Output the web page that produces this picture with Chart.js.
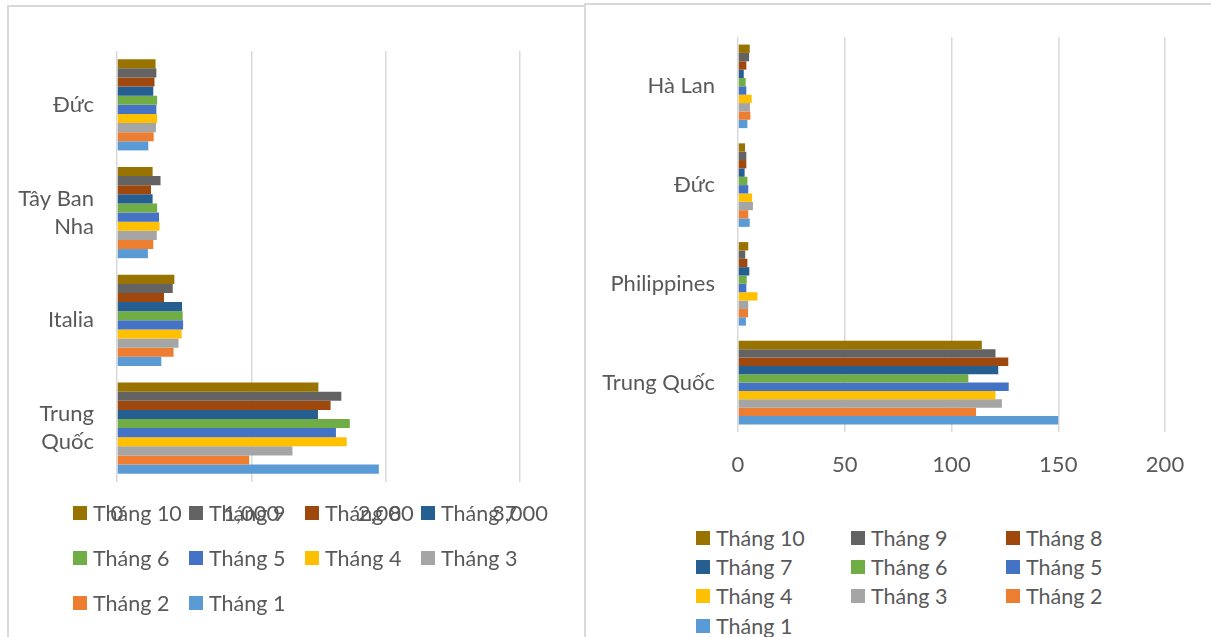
<!DOCTYPE html>
<html>
<head>
<meta charset="utf-8">
<script src="https://cdn.jsdelivr.net/npm/chart.js@4"></script>
<style>
  html, body { margin: 0; padding: 0; background: #fff; }
  body { width: 1211px; height: 637px; position: relative; overflow: hidden; font-family: Lato, sans-serif; }
  .panel { position: absolute; box-sizing: border-box; border: 2px solid #d9d9d9; height: 700px; }
  #panel-left { left: 7px; top: 5px; width: 579px; }
  #panel-right { left: 584px; top: 3px; width: 700px; }
  .box { position: absolute; }
  #box-left { left: 8px; top: 0; width: 577px; height: 540px; }
  #box-right { left: 585px; top: 0; width: 626px; height: 500px; }
  .legend { position: absolute; display: grid; color: #595959; font-size: 21.5px; }
  #legend-left { left: 73px; top: 490px; grid-template-columns: repeat(4, 116px); grid-auto-rows: 45px; }
  #legend-right { left: 696px; top: 523px; grid-template-columns: repeat(3, 155px); grid-auto-rows: 29.4px; }
  .legend .item { display: flex; align-items: center; white-space: nowrap; }
  .legend .swatch { width: 14px; height: 14px; margin-right: 6px; flex: none; }
</style>
</head>
<body>
<div class="panel" id="panel-left"></div>
<div class="panel" id="panel-right"></div>
<div class="box" id="box-left"><canvas id="chart-left"></canvas></div>
<div class="box" id="box-right"><canvas id="chart-right"></canvas></div>
<div class="legend" id="legend-left"></div>
<div class="legend" id="legend-right"></div>
<script>
// series run from Tháng 10 down to Tháng 1 (top to bottom inside each group)
const months = ['Tháng 10', 'Tháng 9', 'Tháng 8', 'Tháng 7', 'Tháng 6', 'Tháng 5', 'Tháng 4', 'Tháng 3', 'Tháng 2', 'Tháng 1'];
const monthColors = ['#997300', '#636363', '#9e480e', '#255e91', '#70ad47', '#4472c4', '#ffc000', '#a5a5a5', '#ed7d31', '#5b9bd5'];

// left chart
const leftLabels = ['Đức', ['Tây Ban', 'Nha'], 'Italia', ['Trung', 'Quốc']];
const leftDuc = [287, 293, 279, 270, 299, 293, 299, 290, 273, 233];
const leftTayBanNha = [265, 324, 253, 265, 299, 313, 316, 296, 270, 230];
const leftItalia = [427, 415, 350, 484, 489, 492, 481, 458, 421, 330];
const leftTrungQuoc = [1499, 1670, 1590, 1496, 1733, 1630, 1710, 1306, 984, 1949];
const leftTicks = [0, 1000, 2000, 3000];

// right chart
const rightLabels = ['Hà Lan', 'Đức', 'Philippines', 'Trung Quốc'];
const rightHaLan = [5.5, 5.2, 3.9, 2.7, 3.6, 3.9, 6.4, 5.6, 5.8, 4.4];
const rightDuc = [3.3, 3.9, 3.9, 3.1, 4.4, 4.8, 6.6, 7.0, 4.8, 5.5];
const rightPhilippines = [4.8, 3.4, 4.4, 5.3, 4.1, 3.9, 9.1, 4.8, 4.7, 3.7];
const rightTrungQuoc = [114.2, 120.6, 126.6, 121.9, 107.9, 126.8, 120.6, 123.6, 111.5, 150];
const rightTicks = [0, 50, 100, 150, 200];

const textColor = '#595959';
const gridColor = '#d9d9d9';

function buildDatasets(rows) {
  return months.map((m, i) => ({
    label: m,
    data: rows.map(r => r[i]),
    backgroundColor: monthColors[i],
    borderWidth: 0,
    categoryPercentage: 0.846,
    barPercentage: 1.0
  }));
}

function makeChart(canvas, labels, rows, ticks, geom) {
  return new Chart(canvas.getContext('2d'), {
    type: 'bar',
    data: { labels: labels, datasets: buildDatasets(rows) },
    options: {
      indexAxis: 'y',
      responsive: true,
      maintainAspectRatio: false,
      animation: false,
      devicePixelRatio: 1,
      layout: { padding: { top: geom.top, right: geom.right, bottom: 0, left: 0 } },
      plugins: { legend: { display: false }, tooltip: { enabled: false } },
      scales: {
        x: {
          min: ticks[0],
          max: ticks[ticks.length - 1],
          afterBuildTicks: s => { s.ticks = ticks.map(v => ({ value: v })); },
          afterFit: s => { s.height = geom.xHeight; },
          border: { display: false },
          grid: { color: gridColor, lineWidth: 1.5, drawTicks: false },
          ticks: { color: textColor, padding: geom.tickPad, maxRotation: 0, font: { family: 'Lato', size: 22 } }
        },
        y: {
          afterFit: s => { s.width = geom.yWidth; },
          border: { display: false },
          grid: { display: false, drawTicks: false },
          ticks: { color: textColor, padding: 23, font: { family: 'Lato', size: 22, lineHeight: 1.27 } }
        }
      }
    }
  });
}

function buildLegend(chart, el) {
  chart.data.datasets.forEach(ds => {
    const item = document.createElement('div');
    item.className = 'item';
    const sw = document.createElement('span');
    sw.className = 'swatch';
    sw.style.background = ds.backgroundColor;
    const tx = document.createElement('span');
    tx.textContent = ds.label;
    item.appendChild(sw);
    item.appendChild(tx);
    el.appendChild(item);
  });
}

async function main() {
  await document.fonts.load('22px Lato');

  const left = makeChart(document.querySelector('#chart-left'), leftLabels,
    [leftDuc, leftTayBanNha, leftItalia, leftTrungQuoc], leftTicks,
    { top: 48, right: 65, xHeight: 58, yWidth: 109, tickPad: 19 });
  buildLegend(left, document.querySelector('#legend-left'));

  const right = makeChart(document.querySelector('#chart-right'), rightLabels,
    [rightHaLan, rightDuc, rightPhilippines, rightTrungQuoc], rightTicks,
    { top: 34, right: 46, xHeight: 68, yWidth: 153, tickPad: 20 });
  buildLegend(right, document.querySelector('#legend-right'));
}

main()
</script>
</body>
</html>
